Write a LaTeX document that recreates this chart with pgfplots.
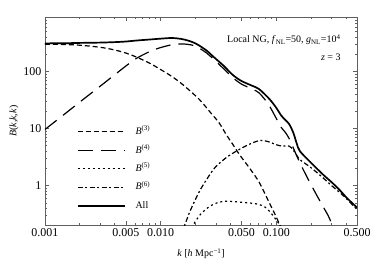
\documentclass[border=0pt]{standalone}
\usepackage{fontspec}
\setmainfont{Liberation Serif}
\usepackage{pgfplots}
\pgfplotsset{compat=1.18}

\pgfplotstableread{
k B
0.001 300
0.0015 296
0.002 288
0.003 265
0.004 238
0.005 210
0.0062 178
0.008 140
0.01 108
0.0127 80
0.016 56
0.0217 32
0.027 19
0.032 12.6
0.0368 7.9
0.042 5.3
0.048 3.5
0.06 1.9
0.071 1.15
0.085 0.55
0.1 0.28
0.11 0.18
0.12 0.12
}\bthree

\pgfplotstableread{
k B
0.001 9.6
0.0015 18.3
0.002 29
0.003 55
0.004 87
0.005 124
0.0062 170
0.008 222
0.0092 248
0.01 262
0.0127 295
0.016 302
0.02 278
0.025 210
0.028 172
0.035 112
0.042 78
0.05 60
0.062 49
0.071 42
0.085 27
0.1 15
0.11 10.5
0.12 8.5
0.13 6.5
0.14 4.6
0.16 2.5
0.19 1.25
0.22 0.72
0.25 0.45
0.28 0.3
0.31 0.19
0.33 0.15
}\bfour

\pgfplotstableread{
k B
0.018 0.15
0.019 0.2
0.022 0.31
0.026 0.42
0.03 0.49
0.035 0.53
0.04 0.53
0.05 0.51
0.062 0.49
0.07 0.47
0.08 0.42
0.09 0.33
0.1 0.25
0.11 0.19
0.115 0.16
}\bfive

\pgfplotstableread{
k B
0.015 0.15
0.0161 0.2
0.018 0.36
0.0217 0.8
0.026 1.45
0.03 2.15
0.037 3.1
0.045 4.0
0.055 5.0
0.065 5.8
0.074 6.2
0.085 5.9
0.1 5.2
0.113 4.9
0.125 5.0
0.135 4.6
0.15 3.4
0.158 2.9
0.2 2.05
0.25 1.4
0.3 1.0
0.35 0.77
0.4 0.6
0.45 0.47
0.5 0.38
}\bsix

\pgfplotstableread{
k B
0.001 310
0.0015 312
0.002 316
0.003 320
0.004 326
0.005 334
0.0062 348
0.008 362
0.01 375
0.0127 385
0.016 362
0.02 310
0.025 232
0.028 188
0.035 126
0.042 87
0.05 68
0.062 56
0.071 49
0.087 33
0.1 23
0.11 17
0.12 14
0.129 12
0.14 8.5
0.15 5.5
0.16 4.0
0.2 2.5
0.25 1.6
0.3 1.15
0.35 0.85
0.4 0.63
0.45 0.5
0.5 0.41
}\ball

\begin{document}
\begin{tikzpicture}
\begin{axis}[
  name=main,
  scale only axis,
  width=313pt, height=209pt,
  xmode=log, ymode=log,
  xmin=0.001, xmax=0.5, ymin=0.2, ymax=900,
  axis line style={gray!75!black, line width=0.5pt},
  tick style={gray!75!black, line width=0.5pt},
  tick align=inside,
  major tick length=4.5pt, minor tick length=2.5pt,
  xtick={0.001,0.005,0.01,0.05,0.1,0.5},
  xticklabels={0.001,0.005 ,0.010,0.050,0.100,0.500},
  minor xtick={0.002,0.003,0.004,0.006,0.007,0.008,0.009,0.02,0.03,0.04,0.06,0.07,0.08,0.09,0.2,0.3,0.4},
  ytick={1,10,100},
  yticklabels={1,10,100},
  minor ytick={0.2,0.3,0.4,0.5,0.6,0.7,0.8,0.9,2,3,4,5,6,7,8,9,20,30,40,50,60,70,80,90,200,300,400,500,600,700,800,900},
  ticklabel style={font=\fontsize{12}{14}\selectfont, text=black},
  xlabel={\textit{k} [\textit{h} Mpc\textsuperscript{−1}]},
  ylabel={\textit{B}(\textit{k},\textit{k},\textit{k})},
  label style={font=\fontsize{12}{14}\selectfont},
  every axis x label/.style={at={(axis description cs:0.5,-0.135)}, anchor=center},
  every axis y label/.style={at={(axis description cs:-0.099,0.5)}, anchor=center, rotate=90},
  legend style={at={(axis description cs:0.102,0.48)}, anchor=north west, draw=none, fill=none,
    font=\fontsize{10}{12}\selectfont, row sep=6pt, column sep=9pt, inner sep=0pt,
    nodes={inner sep=1pt, text height=8pt, text depth=2.5pt}},
  legend cell align=left,
  legend image code/.code={\draw[#1] (0pt,0pt) -- (47pt,0pt);},
  clip=true,
]
\addplot[black, line width=1.2pt, smooth, dash pattern=on 5pt off 3pt] table[x=k,y=B]{\bthree};
\addlegendentry{\textit{B}\textsuperscript{(3)}}
\addplot[black, line width=1.2pt, smooth, dash pattern=on 15pt off 8pt] table[x=k,y=B]{\bfour};
\addlegendentry{\textit{B}\textsuperscript{(4)}}
\addplot[black, line width=1.2pt, smooth, dash pattern=on 2pt off 3pt] table[x=k,y=B]{\bfive};
\addlegendentry{\textit{B}\textsuperscript{(5)}}
\addplot[black, line width=1.2pt, smooth, dash pattern=on 5pt off 2.5pt on 2pt off 2.5pt] table[x=k,y=B]{\bsix};
\addlegendentry{\textit{B}\textsuperscript{(6)}}
\addplot[black, line width=1.7pt, smooth] table[x=k,y=B]{\ball};
\addlegendentry{All}
\node[anchor=east, font=\fontsize{10}{12}\selectfont] at (axis description cs:0.958,0.89) {Local NG, \textit{f}\textsubscript{NL}=50, \textit{g}\textsubscript{NL}=10\textsuperscript{4}};
\node[anchor=east, font=\fontsize{10}{12}\selectfont] at (axis description cs:0.958,0.805) {\textit{z} = 3};
\end{axis}
\path ([shift={(-45pt,-44pt)}]main.south west) rectangle ([shift={(16pt,17pt)}]main.north east);
\end{tikzpicture}
\end{document}
